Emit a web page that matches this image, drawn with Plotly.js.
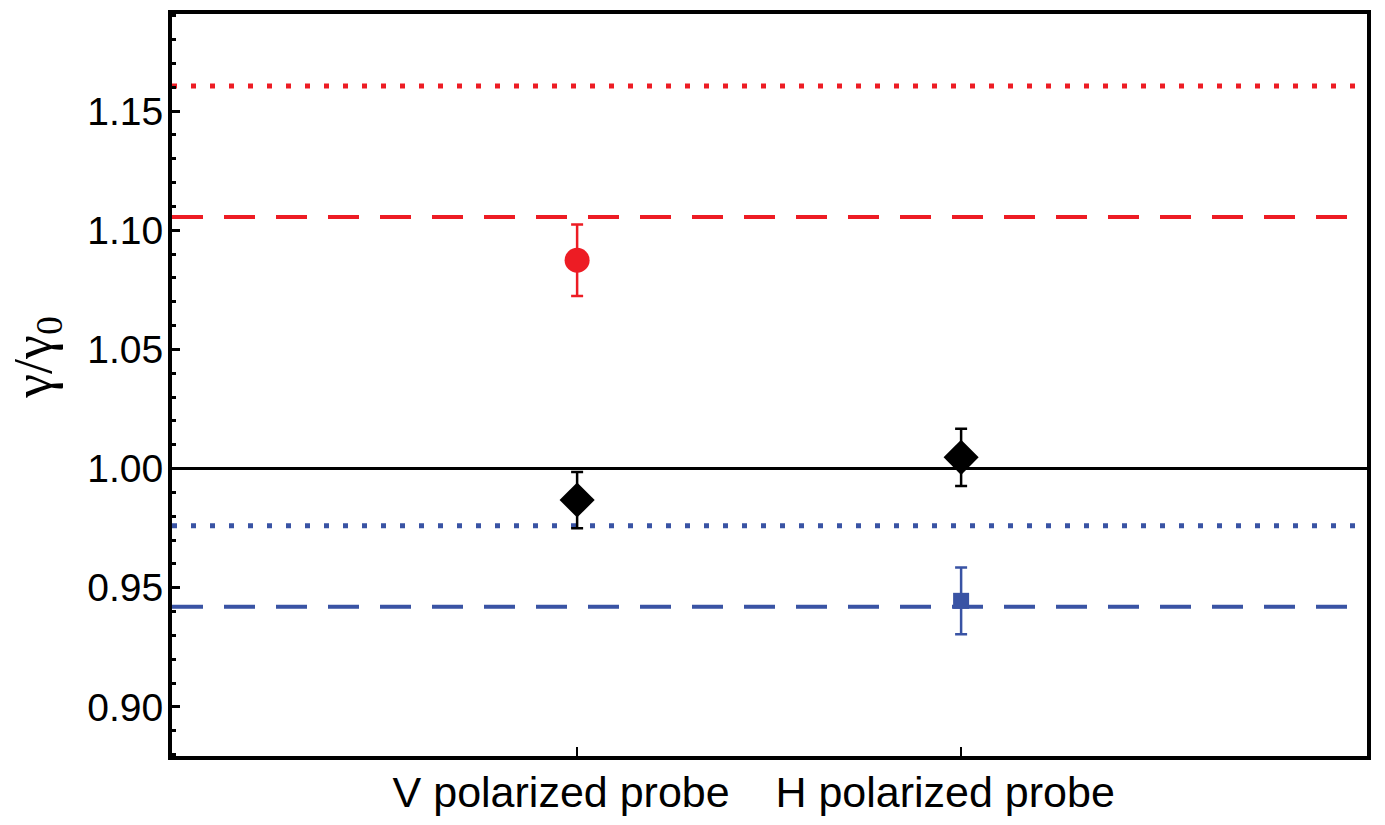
<!DOCTYPE html>
<html>
<head>
<meta charset="utf-8">
<script src="https://cdn.plot.ly/plotly-3.0.1.min.js"></script>
<style>html,body{margin:0;padding:0;background:#fff;}#chart{width:1385px;height:825px;}</style>
</head>
<body>
<div id="chart"></div>
<script>
// Categories
const categories = ["V polarized probe", "H polarized probe"];
const catPos = [0, 1];

// Measured points
const redY = [1.0874];         // V probe (red circle)
const redErr = [0.0150];
const blackY = [0.9868, 1.0047]; // both probes (black diamonds)
const blackErr = [0.0118, 0.0120];
const blueY = [0.9445];        // H probe (blue square)
const blueErr = [0.0140];

// Reference horizontal levels
const redDotted = 1.1605;
const redDashed = 1.1055;
const unity = 1.0;
const blueDotted = 0.9760;
const blueDashed = 0.9420;

const yTicks = [0.90, 0.95, 1.00, 1.05, 1.10, 1.15];
const yTickText = ["0.90", "0.95", "1.00", "1.05", "1.10", "1.15"];
const yTitle = "γ/γ<sub>0</sub>";

const RED = "#ED1C24", BLUE = "#3953A4", BLACK = "#000000";

const traces = [
  {
    x: [catPos[0]], y: redY, type: "scatter", mode: "markers",
    marker: {symbol: "circle", size: 25, color: RED},
    error_y: {type: "data", array: redErr, visible: true, color: RED, thickness: 2.5, width: 6}
  },
  {
    x: catPos, y: blackY, type: "scatter", mode: "markers",
    marker: {symbol: "diamond", size: 27, color: BLACK},
    error_y: {type: "data", array: blackErr, visible: true, color: BLACK, thickness: 2.5, width: 6}
  },
  {
    x: [catPos[1]], y: blueY, type: "scatter", mode: "markers",
    marker: {symbol: "square", size: 16, color: BLUE},
    error_y: {type: "data", array: blueErr, visible: true, color: BLUE, thickness: 2.5, width: 6}
  }
];

function hline(y, color, dash, width) {
  return {type: "line", xref: "paper", x0: 0, x1: 1, yref: "y", y0: y, y1: y,
          layer: "below", line: {color: color, width: width, dash: dash}};
}

const layout = {
  width: 1385, height: 825,
  margin: {l: 172, r: 18, t: 14, b: 69},
  paper_bgcolor: "#fff", plot_bgcolor: "#fff",
  showlegend: false,
  font: {family: "Liberation Sans, Arial, sans-serif", color: "#000"},
  xaxis: {
    range: [-1.055, 2.057],
    tickvals: catPos, ticktext: categories,
    ticks: "inside", ticklen: 9, tickwidth: 2, tickcolor: "#000",
    showgrid: false, zeroline: false,
    showline: true, linewidth: 4, linecolor: "#000", mirror: true,
    tickfont: {size: 43, family: "Liberation Sans, Arial, sans-serif"},
    ticklabelshift: -16,
    ticklabelstandoff: -5
  },
  yaxis: {
    range: [0.8794, 1.1907],
    tickvals: yTicks, ticktext: yTickText,
    ticks: "inside", ticklen: 8, tickwidth: 3, tickcolor: "#000",
    minor: {dtick: 0.01, tick0: 0.9, ticks: "inside", ticklen: 4, tickwidth: 3, tickcolor: "#000"},
    showgrid: false, zeroline: false,
    showline: true, linewidth: 4, linecolor: "#000", mirror: true,
    tickfont: {size: 39, family: "Liberation Sans, Arial, sans-serif"},
    ticklabelstandoff: -3
  },
  annotations: [{
    text: yTitle, xref: "paper", yref: "paper", x: -0.113, y: 0.538,
    xanchor: "center", yanchor: "middle", textangle: -90, showarrow: false,
    font: {size: 54, family: "Liberation Serif, Times New Roman, serif", color: "#000"}
  }],
  shapes: [
    hline(redDotted, RED, "5px,14px", 5),
    hline(redDashed, RED, "31px,21px", 4),
    hline(unity, BLACK, "solid", 3),
    hline(blueDotted, BLUE, "5px,14px", 5),
    hline(blueDashed, BLUE, "31px,21px", 4)
  ]
};

Plotly.newPlot("chart", traces, layout, {displayModeBar: false, staticPlot: true});
</script>
</body>
</html>
